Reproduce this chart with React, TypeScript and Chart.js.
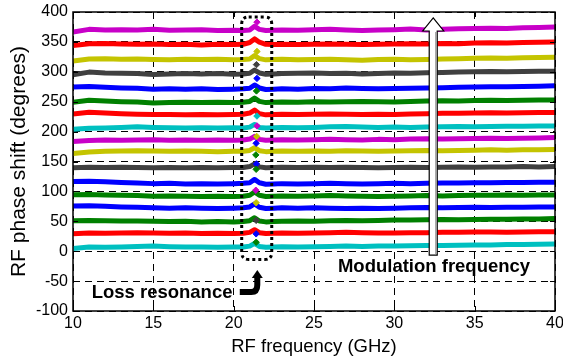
import React, { useEffect, useRef } from "react";
import { Chart, registerables } from "chart.js";

Chart.register(...registerables);

// ---------- data ----------
const FREQ_GHZ = [10, 11, 12, 13, 14, 15, 16, 17, 18, 19, 20, 20.6, 21.0, 21.3, 21.6, 22.0, 22.5, 23, 24, 25, 26, 27, 28, 29, 30, 31, 32, 33, 34, 35, 36, 37, 38, 39, 40];

const X_TICKS = [10, 15, 20, 25, 30, 35, 40];
const Y_TICKS = [-100, -50, 0, 50, 100, 150, 200, 250, 300, 350, 400];

const MAGENTA = "#c800c8";
const RED = "#ff0000";
const YELLOW = "#c4c400";
const GRAY = "#404040";
const BLUE = "#0000ff";
const GREEN = "#008000";
const CYAN = "#00c0c0";

const trace01 = [4.5, 7, 6.5, 7, 8, 8.5, 7.5, 7, 7, 6.5, 7, 7, 8.5, 13, 8, 6.5, 7, 7.5, 7, 7.5, 8, 8.5, 8, 8.5, 8.5, 9, 9.5, 9.5, 10, 10.5, 10.5, 11, 11, 11.5, 12];
const trace02 = [29, 30.5, 30, 30.5, 31, 30.5, 30, 30.5, 29.5, 30, 29.5, 30, 31.5, 36, 31, 29.5, 30, 30.5, 30, 30.5, 31, 31.5, 31, 30.5, 30.5, 31, 31, 31.5, 31.5, 32, 32, 31.5, 32, 32.5, 32.5];
const trace03 = [51, 51.5, 51, 50.5, 50.5, 50, 49.5, 50, 49, 49.5, 49, 49.5, 51, 56, 50.5, 49, 49.5, 50, 50.5, 50, 51, 51.5, 51, 51.5, 52, 52, 52.5, 53, 52.5, 53, 53.5, 53.5, 54, 54, 54.5];
const trace04 = [75.5, 76, 75, 74, 73.5, 72.5, 72, 72.5, 72, 71.5, 72, 72.5, 74, 79, 73.5, 71.5, 72, 72.5, 72, 72.5, 72, 71.5, 72, 71.5, 72, 72.5, 73, 72.5, 73, 73.5, 73, 73.5, 73.5, 74, 74];
const trace05 = [94.5, 95, 94, 93.5, 93, 92, 92.5, 92, 91.5, 92, 91.5, 92, 93.5, 99, 93.5, 91.5, 92, 92.5, 92, 92.5, 93, 92.5, 92, 91.5, 92, 92.5, 93, 92.5, 93, 93.5, 93.5, 94, 93.5, 94, 94];
const trace06 = [116.5, 117, 116, 115, 114, 113, 113.5, 112.5, 113, 112.5, 113, 113.5, 114.5, 120, 114.5, 112, 112.5, 113, 112.5, 113, 113.5, 113, 112.5, 113, 113.5, 113, 113.5, 114, 114, 114.5, 114.5, 115, 115, 115.5, 115.5];
const trace07 = [139.5, 140.5, 140, 140.5, 140, 139.5, 140, 139.5, 140, 139.5, 140, 140, 141.5, 146, 141, 139.5, 140, 140.5, 140, 140.5, 140, 140.5, 140, 139.5, 140, 140.5, 140, 140.5, 141, 140.5, 141, 141, 141.5, 141, 141.5];
const trace08 = [163.5, 166, 167, 167.5, 168, 167.5, 167, 167.5, 167, 166.5, 167, 167, 168.5, 173, 168, 166.5, 167, 167.5, 167, 167.5, 167, 168, 167.5, 167, 167.5, 168, 168.5, 168, 168.5, 169, 169.5, 169, 169.5, 169.5, 170];
const trace09 = [183.5, 185, 186, 185.5, 186, 186.5, 185.5, 186, 185.5, 186, 185.5, 186, 187.5, 192, 187, 185.5, 186, 186.5, 186, 186.5, 187, 186.5, 186, 187, 186.5, 187.5, 188, 187.5, 188, 188.5, 189, 188.5, 189, 189.5, 190];
const trace10 = [204, 205.5, 206, 207, 208, 207, 206.5, 206, 206.5, 206, 206.5, 206, 207.5, 212, 207, 206, 206.5, 207, 206.5, 207, 208, 208.5, 207.5, 207, 207.5, 207, 207.5, 208, 208.5, 208, 208.5, 209, 209, 209.5, 209.5];
const trace11 = [229.5, 232.5, 231, 230, 229, 228.5, 228.5, 228, 228.5, 228, 228.5, 229, 231, 236, 230, 228, 228.5, 229, 228.5, 229, 229.5, 229, 228.5, 229, 228.5, 229.5, 230, 230.5, 230.5, 231, 231.5, 231, 231.5, 232, 232];
const trace12 = [249, 252.5, 251, 250, 249.5, 248, 248.5, 249, 248.5, 249, 248.5, 249, 250.5, 256, 250.5, 248.5, 249, 249.5, 249, 250, 249.5, 250, 250.5, 250, 249.5, 250.5, 251, 251.5, 251, 252, 252.5, 252, 252.5, 253, 253];
const trace13 = [274.5, 275.5, 274, 273, 272.5, 271, 271.5, 271, 271.5, 270.5, 271, 271.5, 272.5, 278, 273, 270.5, 271, 271.5, 271, 272, 271.5, 273, 272, 271.5, 272, 272.5, 273, 273.5, 274, 274.5, 275, 275, 275.5, 276, 276.5];
const trace14 = [295, 299.5, 298, 297.5, 297, 295.5, 296.5, 297, 296.5, 297, 296, 296.5, 297.5, 303, 298, 296, 296.5, 297, 297.5, 298, 297, 297.5, 296.5, 297, 298, 297.5, 298.5, 299, 299.5, 300, 300.5, 300, 300.5, 301, 301];
const trace15 = [318, 321.5, 322, 321, 321.5, 320.5, 320, 321, 320.5, 321, 320, 320.5, 321.5, 327, 322, 320, 320.5, 321, 320, 320.5, 321, 320, 319.5, 320.5, 321, 320, 320.5, 321.5, 322, 322.5, 323, 322.5, 323.5, 324, 324.5];
const trace16 = [344, 347, 347.5, 346.5, 346, 346.5, 345.5, 346, 345, 346, 345.5, 346, 349, 355, 349.5, 346, 345.5, 346, 345.5, 346, 346.5, 346, 345.5, 346, 346.5, 347, 346.5, 347.5, 347, 348, 348.5, 348, 349, 349.5, 350];
const trace17 = [366.5, 371, 370, 370.5, 370, 371, 369.5, 370, 370.5, 369, 369.5, 369, 370, 376, 371, 369, 369.5, 370, 369.5, 370.5, 371, 370, 369, 370, 370.5, 371.5, 370, 371, 372, 372.5, 373, 372.5, 373.5, 374, 375];

const TRACE_VALUES = [trace01, trace02, trace03, trace04, trace05, trace06, trace07, trace08, trace09, trace10, trace11, trace12, trace13, trace14, trace15, trace16, trace17];
const TRACE_COLORS = [CYAN, RED, GREEN, BLUE, GREEN, BLUE, GRAY, YELLOW, MAGENTA, CYAN, RED, GREEN, BLUE, GRAY, YELLOW, RED, MAGENTA];

// resonance markers
const DIAMOND_FREQ = [21.45, 21.45, 21.42, 21.45, 21.42, 21.45, 21.45, 21.43, 21.4, 21.38, 21.42, 21.4, 21.38, 21.4, 21.4, 21.4, 21.4];
const DIAMOND_PHASE = [383, 334, 312, 289, 268, 226, 209.5, 192, 180.5, 161, 146, 137, 102, 81, 51.5, 29, 15];
const DIAMOND_COLORS = [MAGENTA, YELLOW, GRAY, BLUE, GREEN, CYAN, MAGENTA, YELLOW, BLUE, GREEN, BLUE, GREEN, MAGENTA, YELLOW, GRAY, BLUE, GREEN];

// ---------- annotation placement (data coordinates) ----------
const RES_BOX = { x0: 20.5, x1: 22.37, y0: 391.5, y1: -13.8 };
const BENT_ARROW_TIP = { x: 21.47, y: -31.5 };
const MOD_ARROW = { x: 32.42, yTop: 390, yBottom: -6.5 };
const LOSS_LABEL = { x: 11.16, y: -79, text: "Loss resonance" };
const MOD_LABEL = { x: 26.49, y: -34.5, text: "Modulation frequency" };

const FONT = '"Liberation Sans", Arial, Helvetica, sans-serif';

const overlayPlugin = {
  id: "overlay",
  afterDatasetsDraw(chart: any) {
    const { ctx, chartArea: a, scales } = chart;
    const xs = scales.x;
    const ys = scales.y;
    const px = (v: number) => xs.getPixelForValue(v);
    const py = (v: number) => ys.getPixelForValue(v);
    ctx.save();
    ctx.setLineDash([]);
    ctx.strokeStyle = "#000";
    ctx.lineWidth = 1;
    // inner ticks
    ctx.beginPath();
    for (const t of X_TICKS) {
      const p = Math.round(px(t)) + 0.5;
      ctx.moveTo(p, a.bottom);
      ctx.lineTo(p, a.bottom - 5);
      ctx.moveTo(p, a.top);
      ctx.lineTo(p, a.top + 5);
    }
    for (const t of Y_TICKS) {
      const p = Math.round(py(t)) + 0.5;
      ctx.moveTo(a.left, p);
      ctx.lineTo(a.left + 5, p);
      ctx.moveTo(a.right, p);
      ctx.lineTo(a.right - 5, p);
    }
    ctx.stroke();
    // axes box
    ctx.lineWidth = 1.5;
    ctx.strokeRect(a.left, a.top, a.right - a.left, a.bottom - a.top);

    // dotted rounded box around resonance
    {
      const l = px(RES_BOX.x0), r = px(RES_BOX.x1), t = py(RES_BOX.y0), b = py(RES_BOX.y1);
      const rad = 7;
      ctx.lineWidth = 3;
      ctx.setLineDash([3, 3]);
      ctx.beginPath();
      ctx.moveTo(l + rad, t);
      ctx.lineTo(r - rad, t);
      ctx.quadraticCurveTo(r, t, r, t + rad);
      ctx.lineTo(r, b - rad);
      ctx.quadraticCurveTo(r, b, r - rad, b);
      ctx.lineTo(l + rad, b);
      ctx.quadraticCurveTo(l, b, l, b - rad);
      ctx.lineTo(l, t + rad);
      ctx.quadraticCurveTo(l, t, l + rad, t);
      ctx.stroke();
      ctx.setLineDash([]);
    }

    // bent black arrow
    {
      const tx = px(BENT_ARROW_TIP.x), ty = py(BENT_ARROW_TIP.y);
      ctx.strokeStyle = "#000";
      ctx.fillStyle = "#000";
      ctx.lineWidth = 6;
      ctx.lineCap = "butt";
      ctx.lineJoin = "round";
      ctx.beginPath();
      ctx.moveTo(tx - 17.5, ty + 22);
      ctx.lineTo(tx - 6, ty + 22);
      ctx.quadraticCurveTo(tx, ty + 22, tx, ty + 15);
      ctx.lineTo(tx, ty + 6);
      ctx.stroke();
      ctx.beginPath();
      ctx.moveTo(tx, ty);
      ctx.lineTo(tx + 5.5, ty + 8);
      ctx.lineTo(tx - 5.5, ty + 8);
      ctx.closePath();
      ctx.fill();
    }

    // white modulation arrow
    {
      const cx = px(MOD_ARROW.x), top = py(MOD_ARROW.yTop), bot = py(MOD_ARROW.yBottom);
      const hw = 4, headW = 10.5, headH = 13;
      ctx.beginPath();
      ctx.moveTo(cx, top);
      ctx.lineTo(cx + headW, top + headH);
      ctx.lineTo(cx + hw, top + headH);
      ctx.lineTo(cx + hw, bot);
      ctx.lineTo(cx - hw, bot);
      ctx.lineTo(cx - hw, top + headH);
      ctx.lineTo(cx - headW, top + headH);
      ctx.closePath();
      ctx.fillStyle = "#fff";
      ctx.fill();
      ctx.lineWidth = 1.2;
      ctx.strokeStyle = "#000";
      ctx.lineJoin = "miter";
      ctx.stroke();
      ctx.strokeStyle = "#9a9a9a";
      ctx.lineWidth = 1.5;
      ctx.beginPath();
      ctx.moveTo(cx + hw - 1.3, top + headH + 1);
      ctx.lineTo(cx + hw - 1.3, bot - 1);
      ctx.stroke();
    }

    // labels
    ctx.fillStyle = "#000";
    ctx.font = `bold 18.5px ${FONT}`;
    ctx.textAlign = "left";
    ctx.textBaseline = "alphabetic";
    ctx.fillText(LOSS_LABEL.text, px(LOSS_LABEL.x), py(LOSS_LABEL.y));
    ctx.fillText(MOD_LABEL.text, px(MOD_LABEL.x), py(MOD_LABEL.y));
    ctx.restore();
  },
};

export default function App() {
  const ref = useRef<HTMLCanvasElement | null>(null);
  useEffect(() => {
    if (!ref.current) return;
    Chart.defaults.font.family = FONT;
    const lineSets = TRACE_VALUES.map((vals, i) => ({
      type: "line" as const,
      data: FREQ_GHZ.map((f, j) => ({ x: f, y: vals[j] })),
      borderColor: TRACE_COLORS[i],
      backgroundColor: TRACE_COLORS[i],
      borderWidth: 5,
      pointRadius: 0,
      tension: 0,
      fill: false,
      borderJoinStyle: "round" as const,
      order: 2,
    }));
    const diamondSet = {
      type: "scatter" as const,
      data: DIAMOND_FREQ.map((f, j) => ({ x: f, y: DIAMOND_PHASE[j] })),
      pointStyle: "rectRot" as const,
      pointRadius: 3.2,
      pointBackgroundColor: DIAMOND_COLORS,
      pointBorderColor: DIAMOND_COLORS,
      pointBorderWidth: 1,
      showLine: false,
      order: 1,
    };
    const chart = new Chart(ref.current, {
      type: "line",
      data: { datasets: [diamondSet as any, ...lineSets] },
      options: {
        animation: false,
        responsive: false,
        devicePixelRatio: 1,
        layout: { padding: { top: 12, right: 8, left: 0, bottom: 0 } },
        plugins: { legend: { display: false }, tooltip: { enabled: false } },
        scales: {
          x: {
            type: "linear",
            min: 10,
            max: 40,
            afterFit: (s: any) => {
              s.height = 47;
              s.paddingLeft = 0;
              s.paddingRight = 0;
            },
            ticks: { stepSize: 5, color: "#000", font: { size: 16 }, padding: 3, maxRotation: 0 },
            grid: { color: "#000", lineWidth: 1, drawTicks: false },
            border: { display: false, dash: [7, 5] },
            title: { display: true, text: "RF frequency (GHz)", color: "#000", font: { size: 18.5 }, padding: { top: 4, bottom: 0 } },
          },
          y: {
            type: "linear",
            min: -100,
            max: 400,
            afterFit: (s: any) => {
              s.width = 73;
              s.paddingTop = 0;
              s.paddingBottom = 0;
            },
            ticks: { stepSize: 50, color: "#000", font: { size: 16 }, padding: 5 },
            grid: { color: "#000", lineWidth: 1, drawTicks: false },
            border: { display: false, dash: [7, 5] },
            title: { display: true, text: "RF phase shift (degrees)", color: "#000", font: { size: 21 }, padding: { top: 7, bottom: 0 } },
          },
        },
      },
      plugins: [overlayPlugin],
    });
    return () => chart.destroy();
  }, []);
  return (
    <div style={{ position: "absolute", left: 0, top: 0, width: 563, height: 358, background: "#fff" }}>
      <canvas ref={ref} width={563} height={358} style={{ display: "block" }} />
    </div>
  );
}
